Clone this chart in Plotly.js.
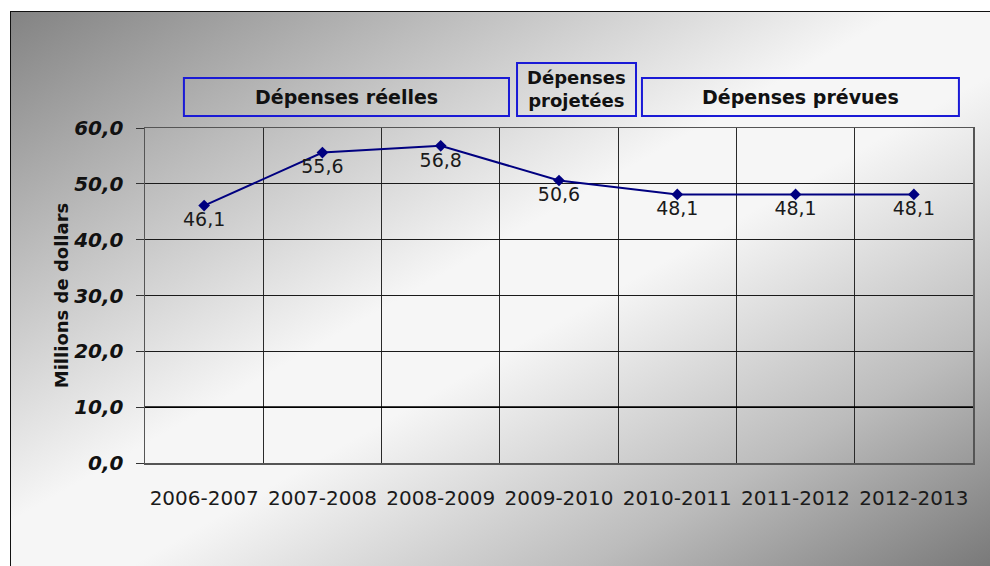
<!DOCTYPE html>
<html>
<head>
<meta charset="utf-8">
<script src="https://cdn.plot.ly/plotly-3.0.1.min.js"></script>
<style>
  html, body { margin: 0; padding: 0; width: 990px; height: 566px; overflow: hidden; background: #ffffff; }
  #frame {
    position: absolute; left: 10px; top: 11px; width: 990px; height: 566px;
    border-left: 1px solid #111; border-top: 1px solid #111;
    background: linear-gradient(to bottom right, #838383 0%, #bcbcbc 22%, #f6f6f6 45%, #f6f6f6 55%, #bcbcbc 78%, #747474 100%);
  }
  #chart { position: absolute; left: 0; top: 0; width: 990px; height: 566px; }
</style>
</head>
<body>
<div id="frame"></div>
<div id="chart"></div>
<script>
// Spending by fiscal year, in millions of dollars
const years = ['2006-2007', '2007-2008', '2008-2009', '2009-2010', '2010-2011', '2011-2012', '2012-2013'];
const spending = [46.1, 55.6, 56.8, 50.6, 48.1, 48.1, 48.1];
const yTicks = [0, 10, 20, 30, 40, 50, 60];
const yTickText = ['0,0', '10,0', '20,0', '30,0', '40,0', '50,0', '60,0'];
const periodLabels = ['Dépenses réelles', 'Dépenses<br>projetées', 'Dépenses prévues'];

const FONT = '"DejaVu Sans", Arial, sans-serif';
const fmt = v => v.toFixed(1).replace('.', ',');

const trace = {
  type: 'scatter',
  mode: 'lines+markers+text',
  x: years,
  y: spending,
  text: spending.map(fmt),
  textposition: 'bottom center',
  textfont: { family: FONT, size: 19, color: '#1a1a1a' },
  line: { color: '#000080', width: 2 },
  marker: { symbol: 'diamond', size: 9, color: '#000080' },
  cliponaxis: false,
  hoverinfo: 'skip'
};

// Period boxes above the plot (paper coordinates)
const boxes = [
  { x0: 0.047, x1: 0.4396, y0: 1.036, y1: 1.149, label: periodLabels[0], size: 19 },
  { x0: 0.4493, x1: 0.593, y0: 1.036, y1: 1.194, label: periodLabels[1], size: 18 },
  { x0: 0.6002, x1: 0.983, y0: 1.036, y1: 1.149, label: periodLabels[2], size: 19 }
];

const shapes = boxes.map(b => ({
  type: 'rect', xref: 'paper', yref: 'paper',
  x0: b.x0, x1: b.x1, y0: b.y0, y1: b.y1,
  line: { color: '#1a1ad6', width: 2 },
  fillcolor: 'rgba(0,0,0,0)'
}));
// heavier rule at 10,0
shapes.push({
  type: 'line', xref: 'paper', yref: 'y', x0: 0, x1: 1, y0: 10, y1: 10,
  line: { color: '#000', width: 1.6 }
});

const annotations = boxes.map(b => ({
  xref: 'paper', yref: 'paper',
  x: (b.x0 + b.x1) / 2, y: (b.y0 + b.y1) / 2,
  text: '<b>' + b.label + '</b>',
  showarrow: false,
  font: { family: FONT, size: b.size, color: '#111' },
  xanchor: 'center', yanchor: 'middle'
}));

const layout = {
  width: 990, height: 566,
  margin: { l: 145, r: 17, t: 128, b: 103 },
  paper_bgcolor: 'rgba(0,0,0,0)',
  plot_bgcolor: 'rgba(0,0,0,0)',
  showlegend: false,
  xaxis: {
    type: 'category',
    tickson: 'boundaries',
    showgrid: true, gridcolor: '#2a2a2a', gridwidth: 1,
    showline: true, linecolor: '#555', linewidth: 1.5, mirror: true,
    ticks: '', ticklabelstandoff: 16,
    tickfont: { family: FONT, size: 20, color: '#1a1a1a' },
    range: [-0.5, 6.5], fixedrange: true
  },
  yaxis: {
    range: [0, 60],
    tickvals: yTicks, ticktext: yTickText,
    showgrid: true, gridcolor: '#1a1a1a', gridwidth: 1,
    zeroline: false,
    showline: true, linecolor: '#555', linewidth: 1.5, mirror: true,
    ticks: 'outside', ticklen: 8, tickcolor: '#333',
    ticklabelstandoff: 8,
    tickfont: { family: FONT, size: 20, color: '#111', weight: 'bold', style: 'italic' },
    title: { text: '<b>Millions de dollars</b>', font: { family: FONT, size: 18, color: '#111' }, standoff: 0 },
    fixedrange: true
  },
  shapes: shapes,
  annotations: annotations
};

Plotly.newPlot('chart', [trace], layout, { displayModeBar: false, staticPlot: true });
</script>
</body>
</html>
